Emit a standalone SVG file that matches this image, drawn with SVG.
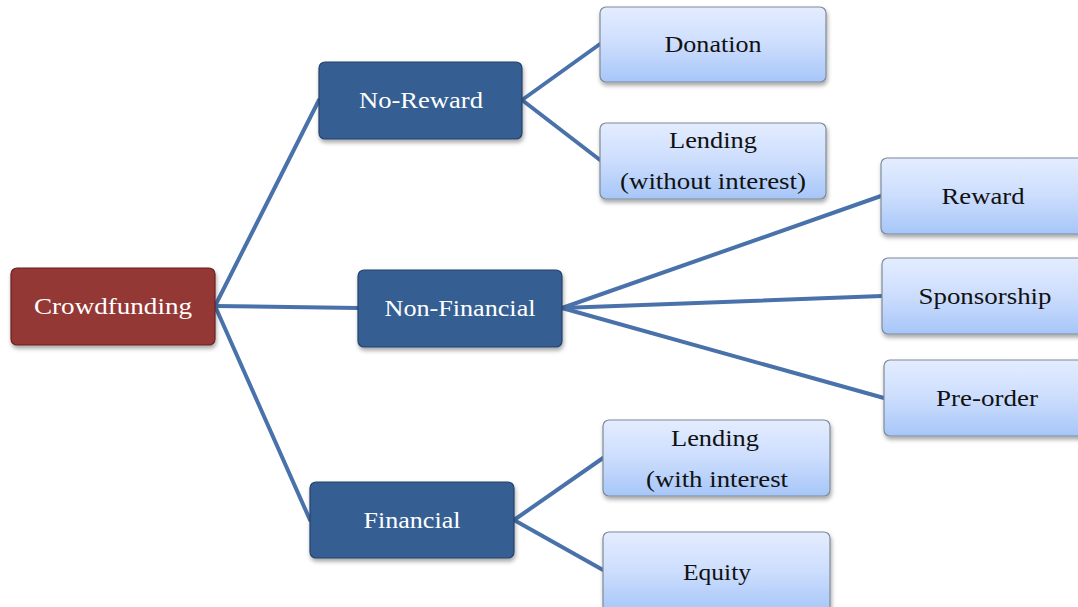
<svg xmlns="http://www.w3.org/2000/svg" width="1078" height="607" viewBox="0 0 1078 607">
<defs>
<linearGradient id="lg" x1="0" y1="0" x2="0" y2="1">
<stop offset="0" stop-color="#E4EDFF"/>
<stop offset="0.5" stop-color="#CCDDFD"/>
<stop offset="1" stop-color="#A6C6F8"/>
</linearGradient>
<filter id="sh" x="-10%" y="-10%" width="125%" height="135%">
<feDropShadow dx="1" dy="3" stdDeviation="2" flood-color="#000" flood-opacity="0.35"/>
</filter>
<style>
.con{stroke:#4A72AA;stroke-width:4;fill:none;stroke-linecap:round}
.dark{fill:#365F92;stroke:#24426A;stroke-width:1.2;filter:url(#sh)}
.red{fill:#943735;stroke:#6A2220;stroke-width:1.2;filter:url(#sh)}
.light{fill:url(#lg);stroke:#7E8A98;stroke-width:1.2;filter:url(#sh)}
.tw{font-family:"Liberation Serif","DejaVu Serif",serif;font-size:23px;fill:#FFFFFF;text-anchor:middle}
.tb{font-family:"Liberation Serif","DejaVu Serif",serif;font-size:23px;fill:#111111;text-anchor:middle}
</style>
</defs>
<rect width="1078" height="607" fill="#FFFFFF"/>
<g id="connectors">
<line class="con" x1="215" y1="306" x2="319" y2="100"/>
<line class="con" x1="215" y1="306" x2="358" y2="308"/>
<line class="con" x1="215" y1="306" x2="310" y2="520"/>
<line class="con" x1="522" y1="100" x2="600" y2="44"/>
<line class="con" x1="522" y1="100" x2="600" y2="160"/>
<line class="con" x1="562" y1="308" x2="881" y2="196"/>
<line class="con" x1="562" y1="308" x2="882" y2="296"/>
<line class="con" x1="562" y1="308" x2="884" y2="398"/>
<line class="con" x1="514" y1="520" x2="603" y2="458"/>
<line class="con" x1="514" y1="520" x2="603" y2="570"/>
</g>
<g id="crowdfunding">
<rect class="red" x="11" y="268" width="204" height="77" rx="6"/>
<text class="tw" x="113" y="314" textLength="158" lengthAdjust="spacingAndGlyphs">Crowdfunding</text>
</g>
<g id="no-reward">
<rect class="dark" x="319" y="62" width="203" height="77" rx="6"/>
<text class="tw" x="421" y="108" textLength="124" lengthAdjust="spacingAndGlyphs">No-Reward</text>
</g>
<g id="non-financial">
<rect class="dark" x="358" y="270" width="204" height="77" rx="6"/>
<text class="tw" x="460" y="316" textLength="151" lengthAdjust="spacingAndGlyphs">Non-Financial</text>
</g>
<g id="financial">
<rect class="dark" x="310" y="482" width="204" height="76" rx="6"/>
<text class="tw" x="412" y="528" textLength="97" lengthAdjust="spacingAndGlyphs">Financial</text>
</g>
<g id="donation">
<rect class="light" x="600" y="7" width="226" height="75" rx="6"/>
<text class="tb" x="713" y="52" textLength="97" lengthAdjust="spacingAndGlyphs">Donation</text>
</g>
<g id="lending-without">
<rect class="light" x="600" y="123" width="226" height="76" rx="6"/>
<text class="tb" x="713" y="148" textLength="88" lengthAdjust="spacingAndGlyphs">Lending</text>
<text class="tb" x="713" y="189" textLength="186" lengthAdjust="spacingAndGlyphs">(without interest)</text>
</g>
<g id="reward">
<rect class="light" x="881" y="158" width="205" height="76" rx="6"/>
<text class="tb" x="983" y="204" textLength="83" lengthAdjust="spacingAndGlyphs">Reward</text>
</g>
<g id="sponsorship">
<rect class="light" x="882" y="258" width="205" height="76" rx="6"/>
<text class="tb" x="985" y="304" textLength="133" lengthAdjust="spacingAndGlyphs">Sponsorship</text>
</g>
<g id="pre-order">
<rect class="light" x="884" y="360" width="205" height="76" rx="6"/>
<text class="tb" x="987" y="406" textLength="102" lengthAdjust="spacingAndGlyphs">Pre-order</text>
</g>
<g id="lending-with">
<rect class="light" x="603" y="420" width="227" height="76" rx="6"/>
<text class="tb" x="715" y="446" textLength="88" lengthAdjust="spacingAndGlyphs">Lending</text>
<text class="tb" x="717" y="487" textLength="142" lengthAdjust="spacingAndGlyphs">(with interest</text>
</g>
<g id="equity">
<rect class="light" x="603" y="532" width="227" height="80" rx="6"/>
<text class="tb" x="717" y="580" textLength="68" lengthAdjust="spacingAndGlyphs">Equity</text>
</g>
</svg>
